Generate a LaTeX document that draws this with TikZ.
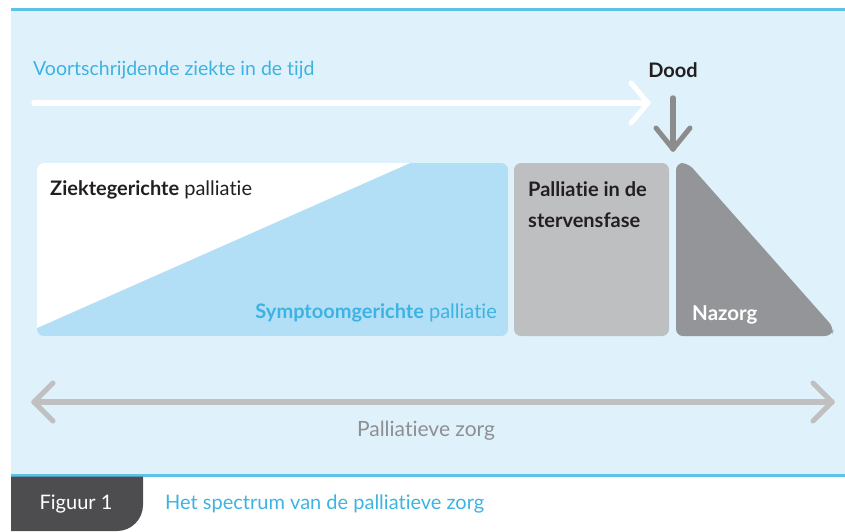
\documentclass[tikz,border=0pt]{standalone}
\usepackage{fontspec}
\setmainfont{Lato}[Ligatures={NoCommon,NoDiscretionary}]
\definecolor{bgblue}{HTML}{DFF1FB}
\definecolor{lineblue}{HTML}{5CC2E9}
\definecolor{txtblue}{HTML}{3DB3E3}
\definecolor{boxblue}{HTML}{B2DFF5}
\definecolor{boxgray}{HTML}{BEBFC1}
\definecolor{darkgray}{HTML}{939598}
\definecolor{arrgray}{HTML}{C0C0C0}
\definecolor{deathgray}{HTML}{8C8C8C}
\definecolor{tabgray}{HTML}{4D4D4F}
\definecolor{inktext}{HTML}{231F20}
\definecolor{labgray}{HTML}{8E8F91}
\tikzset{
  lbl/.style={inner sep=0pt, font=\fontsize{20}{24}\selectfont},
  shaft/.style={line width=5.5pt, line cap=round},
  chev/.style={line width=5pt, line cap=round, line join=round},
}
\begin{document}
\begin{tikzpicture}[x=1pt,y=-1pt]
\useasboundingbox (0,0) rectangle (845,531);
% background
\fill[bgblue] (11,10) rectangle (845,475);
\fill[lineblue] (11,8) rectangle (845,11);
\fill[lineblue] (11,474) rectangle (845,476.5);
% caption tab
\fill[tabgray] (11,476.5) -- (143,476.5) [rounded corners=26] -- (143,531) [sharp corners] -- (11,531) -- cycle;
\node[lbl, text=white, anchor=center] (fig) at (76,504) {Figuur 1};
\node[lbl, text=txtblue, anchor=west] (cap) at (165,504) {Het spectrum van de palliatieve zorg};

% top labels
\node[lbl, text=txtblue, anchor=west, font=\fontsize{19.5}{24}\selectfont] (prog) at (33,70) {Voortschrijdende ziekte in de tijd};
\node[lbl, text=inktext, anchor=center, font=\fontsize{20}{24}\bfseries] (dood) at (673,70) {Dood};

% time arrow
\coordinate (ts) at (34,103);
\coordinate (te) at (648,103);
\draw[white, shaft] (ts) -- (te);
\draw[white, chev] ([shift={(-17,-20)}]te) -- (te) -- ([shift={(-17,20)}]te);

% death arrow
\coordinate (ds) at (673,98);
\coordinate (de) at (673,149);
\draw[deathgray, shaft] (ds) -- (de);
\draw[deathgray, chev] ([shift={(-17,-21)}]de) -- (de) -- ([shift={(17,-21)}]de);

% box 1
\begin{scope}
\clip[rounded corners=7] (37,163) rectangle (508,336);
\fill[boxblue] (37,163) rectangle (508,336);
\fill[white] (37,163) -- (410,163) -- (37,328) -- cycle;
\end{scope}
\node[lbl, text=inktext, anchor=base west] (zg) at (50,195) {\textbf{Ziektegerichte} palliatie};
\node[lbl, text=txtblue, anchor=base east] (sg) at (497,318) {\textbf{Symptoomgerichte} palliatie};

% box 2
\fill[boxgray, rounded corners=7] (514,163) rectangle (669,336);
\node[lbl, text=inktext, anchor=base west, align=left, font=\fontsize{20}{31}\bfseries] (sf) at (528,227) {Palliatie in de\\stervensfase};

% box 3
\fill[darkgray, rounded corners=7] (676,336) -- (676,163) -- (688,163) -- (834,328) -- (832,336) -- cycle;
\node[lbl, text=white, anchor=base west, font=\fontsize{20.5}{24}\bfseries] (nz) at (692,320) {Nazorg};

% palliatieve zorg arrow
\coordinate (pl) at (34,402);
\coordinate (pr) at (832,402);
\draw[arrgray, shaft] (pl) -- (pr);
\draw[arrgray, chev] ([shift={(19,-19)}]pl) -- (pl) -- ([shift={(19,19)}]pl);
\draw[arrgray, chev] ([shift={(-19,-19)}]pr) -- (pr) -- ([shift={(-19,19)}]pr);
\node[lbl, text=labgray, anchor=center, font=\fontsize{21}{24}\selectfont] (pz) at (426,431) {Palliatieve zorg};
\end{tikzpicture}
\end{document}
